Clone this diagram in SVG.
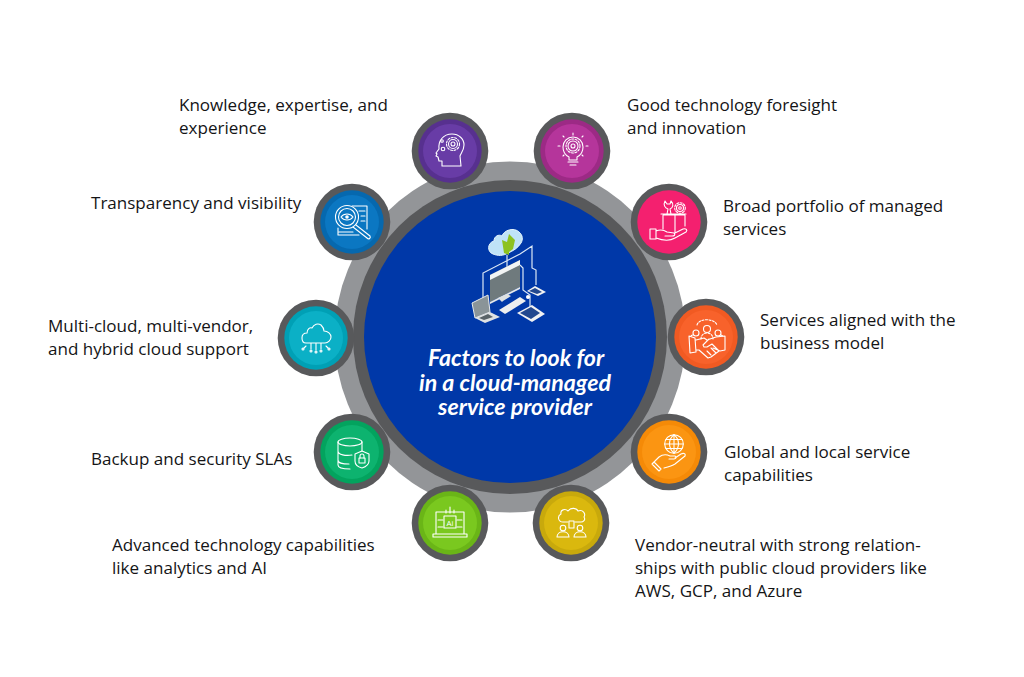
<svg xmlns="http://www.w3.org/2000/svg" width="1024" height="677" viewBox="0 0 1024 677">
<style>
.l{font-family:"Open Sans","Noto Sans","Liberation Sans",sans-serif;font-size:17.05px;fill:#141416}
.t{font-family:"Lato","Open Sans",sans-serif;font-size:23.2px;font-weight:700;font-style:italic;fill:#fff;text-anchor:middle}
.i{fill:none;stroke:#fff;stroke-width:1.1;stroke-linecap:round;stroke-linejoin:round}
.o{fill:#58595b}
.w{fill:none;stroke:#dbe8f6;stroke-width:1.2}
</style>
<rect width="1024" height="677" fill="#fff"/>
<g id="hub">
<circle cx="510" cy="337" r="175.500" fill="#939598"/>
<circle cx="510" cy="337" r="157" fill="#58595b"/>
<circle cx="510" cy="337" r="146" fill="#0038a8"/>
<g id="hub-icon">
<path class="w" d="M483 306v-33l37-19M520 254l12-8v22l4 2v15M507 255v27M520 265l3 3v22l7 5v16"/>
<path d="M490 275l30-15v27l-30 15z" fill="#6f7a7d"/>
<path d="M490 275l30-15v5l-30 15z" fill="#f2f4f4"/>
<path d="M490 302l30-15v2l-30 15z" fill="#e4e7e8"/>
<path d="M498 298l9-4 4 2-8 5 -1 1z" fill="#dde1e2"/>
<path d="M472 303l16-8 2 17-15 6z" fill="#8a9498" stroke="#e6e9ea"/>
<path d="M475 318l15-6 10 5-15 6z" fill="#dfe2e3"/>
<path d="M479 318l9-4 5 3-9 3z" fill="#596368"/>
<path d="M499 310l21-13 6 4-21 13z" fill="#eceeef"/>
<path d="M517 313l15-8 13 9-13 8z" fill="#f1f2f3"/>
<path d="M520 313l11-6 9 6-9 6z" fill="#22488f"/>
<path d="M527 291l8-5 11 6-8 4z" fill="#f1f2f3"/>
<path d="M529 291l6-3 7 4-5 2z" fill="#22488f"/>
<circle cx="528" cy="297" r="2" fill="#fff"/>
<path d="M493 254c-6-2-6-11 1-13 0-5 5-7 8-5 2-6 12-9 17-4 4 3 4 8 2 11-3 5-8 8-13 10-5 3-10 3-15 1z" fill="#bfe3f7" stroke="#e6f5fd"/>
<path d="M504 253l-2-13 5 2 2-8 6 6-2 9-4 3v3z" fill="#8dc21f"/>
</g>
<text class="t"><tspan x="516" y="366">Factors to look for</tspan><tspan x="515" y="391">in a cloud-managed</tspan><tspan x="515" y="415">service provider</tspan></text>
</g>
<g id="connectors"></g>

<g id="n-knowledge">
<circle class="o" cx="450" cy="151" r="38.300"/><circle cx="450" cy="151" r="31.700" fill="#57308f"/><circle cx="450" cy="151" r="27" fill="#683ca6"/>
<path class="i" d="M442 166v-5h-3l-1-4-2-1 1-2-1-1 3-4c-1-8 4-15 13-15 7 0 12 5 12 11 0 5-3 8-4 11l1 10z"/>
<circle class="i" cx="453" cy="144" r="4.500"/><circle class="i" cx="453" cy="144" r="2"/><circle class="i" cx="453" cy="144" r="6.500" stroke-dasharray="2 1.500"/><circle class="i" cx="443" cy="149" r="1.800"/><circle class="i" cx="442" cy="141" r="1.300"/>
</g>
<g id="n-foresight">
<circle class="o" cx="572" cy="151" r="38.300"/><circle cx="572" cy="151" r="31.700" fill="#9c2a85"/><circle cx="572" cy="151" r="27" fill="#b5359b"/>
<path class="i" d="M569 157c-4-2-6-6-6-10a10 10 0 0 1 20 0c0 4-2 8-6 10v3h-8zM568 162h10M570 165h6M573 133v2M560 146h-2M588 146h-2M564 137l-1-1M582 137l1-1M564 155l-1 1M582 155l1 1"/>
<circle class="i" cx="573" cy="146" r="5"/><circle class="i" cx="573" cy="146" r="2"/><circle class="i" cx="573" cy="146" r="7" stroke-dasharray="2 1.500"/>
</g>
<g id="n-portfolio">
<circle class="o" cx="669" cy="222" r="38.300"/><circle cx="669" cy="222" r="31.700" fill="#f4206f"/>
<path class="i" d="M650 229h6v10h-6zM656 231c5-2 8-1 11 1l7 1c2 2 0 3-2 3h-7M656 238c8 3 14 3 19 0l11-6c2-2 0-4-3-3l-8 4M663 229v-14h12v17M675 229v-14h10v11M661 214h15M674 214h12M667 214l1-5c-3-1-5-4-3-8l2 3h3l1-3c3 3 2 7-1 8l1 5"/>
<circle class="i" cx="680" cy="208" r="3.500"/><circle class="i" cx="680" cy="208" r="1.300"/><circle class="i" cx="680" cy="208" r="5.300" stroke-dasharray="2 1.500"/>
</g>
<g id="n-business">
<circle class="o" cx="706" cy="337" r="38.300"/><circle cx="706" cy="337" r="31.700" fill="#f15a22"/><circle cx="706" cy="337" r="27" fill="#f8622b"/>
<path class="i" d="M689 336l6 2 1 14-6 1zM696 340l8-2 3 2 9-3 9-1v14l-5 1-7-3M696 350l3 0 9 8 3-1 8-6-7-7-5 3-3 0-1-2 6-6M707 351l4 4M711 348l5 5"/>
<circle class="i" cx="707" cy="329" r="3.500"/><circle class="i" cx="696" cy="333" r="3"/><circle class="i" cx="718" cy="333" r="3"/><path class="i" d="M701 339c0-4 3-6 6-6s6 2 6 6M691 336c1-1 1-1 2-1M721 335l2 1M697 325c2-7 17-7 20 0" stroke-dasharray="2 1.500"/>
</g>
<g id="n-global">
<circle class="o" cx="669" cy="452" r="38.300"/><circle cx="669" cy="452" r="31.700" fill="#f58a07"/><circle cx="669" cy="452" r="27" fill="#fb9512"/>
<circle class="i" cx="674" cy="444" r="9.300"/><path class="i" d="M664.700 444h18.600M674 434.700c-6 5-6 13 0 18.600M674 434.700c6 5 6 13 0 18.600M674 434.700v18.600M666 439.500h16M666 448.500h16"/>
<path class="i" d="M654 462l5-5c4-3 7-3 11-1h5c2 1 1 3-1 3h-5M664 468c4-1 8-2 11-4l10-8c1-3-2-3-4-2l-6 4M654 462l7 7-2 2-7-7z"/>
</g>
<g id="n-vendor">
<circle class="o" cx="571" cy="523" r="38.300"/><circle cx="571" cy="523" r="31.700" fill="#c8a90c"/><circle cx="571" cy="523" r="27" fill="#dab80e"/>
<path class="i" d="M563 522c-5 0-6-6-2-8-1-4 4-6 7-3 3-4 9-3 10 0 5-2 8 3 6 6 2 3-1 5-3 5h-6M563 522h5"/>
<rect class="i" x="569" y="521" width="5" height="7"/>
<circle class="i" cx="563" cy="528" r="2.800"/><circle class="i" cx="580" cy="528" r="2.800"/><path class="i" d="M557 537c0-7 12-7 12 0zM574 537c0-7 12-7 12 0z"/>
</g>
<g id="n-advanced">
<circle class="o" cx="450" cy="523" r="38.300"/><circle cx="450" cy="523" r="31.700" fill="#6ab517"/><circle cx="450" cy="523" r="27" fill="#7ac81f"/>
<path class="i" d="M436 534v-22h28v22M433 534h34v3h-34zM450 507v6M446 510v3M454 510v3M438 520h5M438 527h5M457 520h5M457 527h5"/>
<rect class="i" x="444" y="516" width="12" height="12"/>
<text x="450" y="526" font-family="Open Sans,sans-serif" font-size="8" fill="#fff" text-anchor="middle">Ai</text>
</g>
<g id="n-backup">
<circle class="o" cx="352" cy="452" r="38.300"/><circle cx="352" cy="452" r="31.700" fill="#03a35e"/><circle cx="352" cy="452" r="27" fill="#0db36f"/>
<ellipse class="i" cx="350" cy="442" rx="12" ry="4"/><path class="i" d="M338 442v23c0 3 6 4 12 4M362 442v9M338 451c0 4 8 5 14 4M338 460c0 4 6 4 11 4"/>
<path class="i" d="M362 451l7 3v7c0 4-4 6-7 7-4-1-7-3-7-7v-7z"/><rect class="i" x="359" y="458" width="6" height="5"/><path class="i" d="M360 458v-2a2 2 0 0 1 4 0v2"/>
</g>
<g id="n-multicloud">
<circle class="o" cx="316" cy="338" r="38.300"/><circle cx="316" cy="338" r="31.700" fill="#00a0b5"/><circle cx="316" cy="338" r="27" fill="#0bb0c6"/>
<path class="i" d="M306 343c-3 0-4-3-4-5 0-3 2-5 5-5 0-4 3-6 5-5 2-4 6-5 9-3 2 2 3 4 3 6 4 0 7 3 7 6s-3 6-6 6zM311 343v6M316 343v7M321 343v6M306 346l-2 2M326 346l2 2"/>
<circle class="i" cx="311" cy="351" r="1"/><circle class="i" cx="316" cy="352" r="1"/><circle class="i" cx="321" cy="351" r="1"/><circle class="i" cx="303" cy="349" r="1"/><circle class="i" cx="329" cy="349" r="1"/>
</g>
<g id="n-transparency">
<circle class="o" cx="352" cy="222" r="38.300"/><circle cx="352" cy="222" r="31.700" fill="#0668ae"/><circle cx="352" cy="222" r="27" fill="#0b77c2"/>
<circle class="i" cx="347" cy="217" r="11.500"/><circle class="i" cx="347" cy="217" r="8.500"/>
<path class="i" d="M341 217c3-4 9-4 12 0-3 4-9 4-12 0zM356 225l14 11c1 2-1 4-3 2l-14-11M352 206h15v23M338 228v7h21M339 232h14M359 211h6M361 216h4M361 221h4"/><circle cx="347" cy="217" r="1.800" fill="#fff"/>
</g>

<text class="l" x="179" y="111">Knowledge, expertise, and</text>
<text class="l" x="179" y="134">experience</text>
<text class="l" x="627" y="111">Good technology foresight</text>
<text class="l" x="627" y="134">and innovation</text>
<text class="l" x="91" y="209">Transparency and visibility</text>
<text class="l" x="723" y="212">Broad portfolio of managed</text>
<text class="l" x="723" y="235">services</text>
<text class="l" x="48" y="332">Multi-cloud, multi-vendor,</text>
<text class="l" x="48" y="355">and hybrid cloud support</text>
<text class="l" x="760" y="326">Services aligned with the</text>
<text class="l" x="760" y="349">business model</text>
<text class="l" x="91" y="465">Backup and security SLAs</text>
<text class="l" x="724" y="458">Global and local service</text>
<text class="l" x="724" y="481">capabilities</text>
<text class="l" x="112" y="551">Advanced technology capabilities</text>
<text class="l" x="112" y="574">like analytics and AI</text>
<text class="l" x="635" y="551">Vendor-neutral with strong relation-</text>
<text class="l" x="635" y="574">ships with public cloud providers like</text>
<text class="l" x="635" y="597">AWS, GCP, and Azure</text>
</svg>
